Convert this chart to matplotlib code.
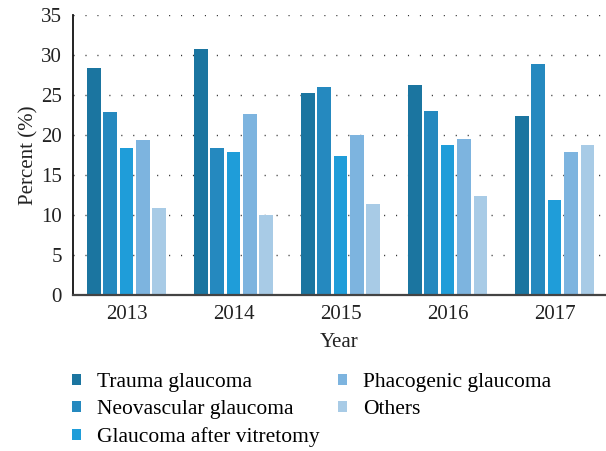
import numpy as np
import matplotlib
matplotlib.use('Agg')
import matplotlib.pyplot as plt

plt.rcParams['font.family'] = ['Liberation Serif', 'DejaVu Serif']

# 数据
years = ['2013', '2014', '2015', '2016', '2017']
series_names = ['Trauma glaucoma', 'Neovascular glaucoma', 'Glaucoma after vitretomy',
                'Phacogenic glaucoma', 'Others']
trauma = [28.4, 30.75, 25.25, 26.25, 22.4]
neovascular = [22.9, 18.4, 26.0, 23.0, 28.9]
vitretomy = [18.4, 17.9, 17.4, 18.75, 11.9]
phacogenic = [19.4, 22.6, 20.0, 19.5, 17.9]
others = [10.9, 10.0, 11.4, 12.4, 18.75]
colors = ['#1b75a0', '#2589bf', '#1f9dd9', '#7db4df', '#a8cbe6']

values = [trauma, neovascular, vitretomy, phacogenic, others]

fig = plt.figure(figsize=(6.06, 4.51), dpi=100)
ax = fig.add_axes([0.1205, 0.3459, 0.8795, 0.6208])

x = np.arange(len(years))
width = 0.128
step = 0.153
bars = []
for i, (vals, c, name) in enumerate(zip(values, colors, series_names)):
    b = ax.bar(x + (i - 2) * step, vals, width, color=c, label=name, zorder=3)
    bars.append(b)

ax.set_xlim(-0.5, 4.48)
ax.set_ylim(0, 35)
ax.set_yticks(range(0, 36, 5))
ax.set_xticks(x)
ax.set_xticklabels(years)
ax.tick_params(length=0, labelsize=15, colors='#222222')
ax.tick_params(axis='x', pad=7)
ax.tick_params(axis='y', pad=8)

ax.yaxis.grid(True, linestyle=(0, (0.8, 7.8)), color='#333333', linewidth=1.0, zorder=0)
ax.set_axisbelow(True)

for s in ['top', 'right']:
    ax.spines[s].set_visible(False)
ax.spines['left'].set_color('#111111')
ax.spines['left'].set_linewidth(1.3)
ax.spines['bottom'].set_color('#444444')
ax.spines['bottom'].set_linewidth(1.6)
ax.spines['bottom'].set_zorder(4)

ax.set_xlabel('Year', fontsize=15, color='#222222', labelpad=7)
ax.set_ylabel('Percent (%)', fontsize=15, color='#222222', labelpad=2)

# 图例（两列）
fig.legend(handles=bars, labels=series_names, loc='upper left',
           bbox_to_anchor=(0.118, 0.172), bbox_transform=fig.transFigure,
           ncol=2, frameon=False, fontsize=15.5, handlelength=0.42, handleheight=0.42,
           handletextpad=0.75, columnspacing=0.85, labelspacing=0.37,
           borderpad=0, borderaxespad=0)

plt.savefig('out.png', dpi=100)
